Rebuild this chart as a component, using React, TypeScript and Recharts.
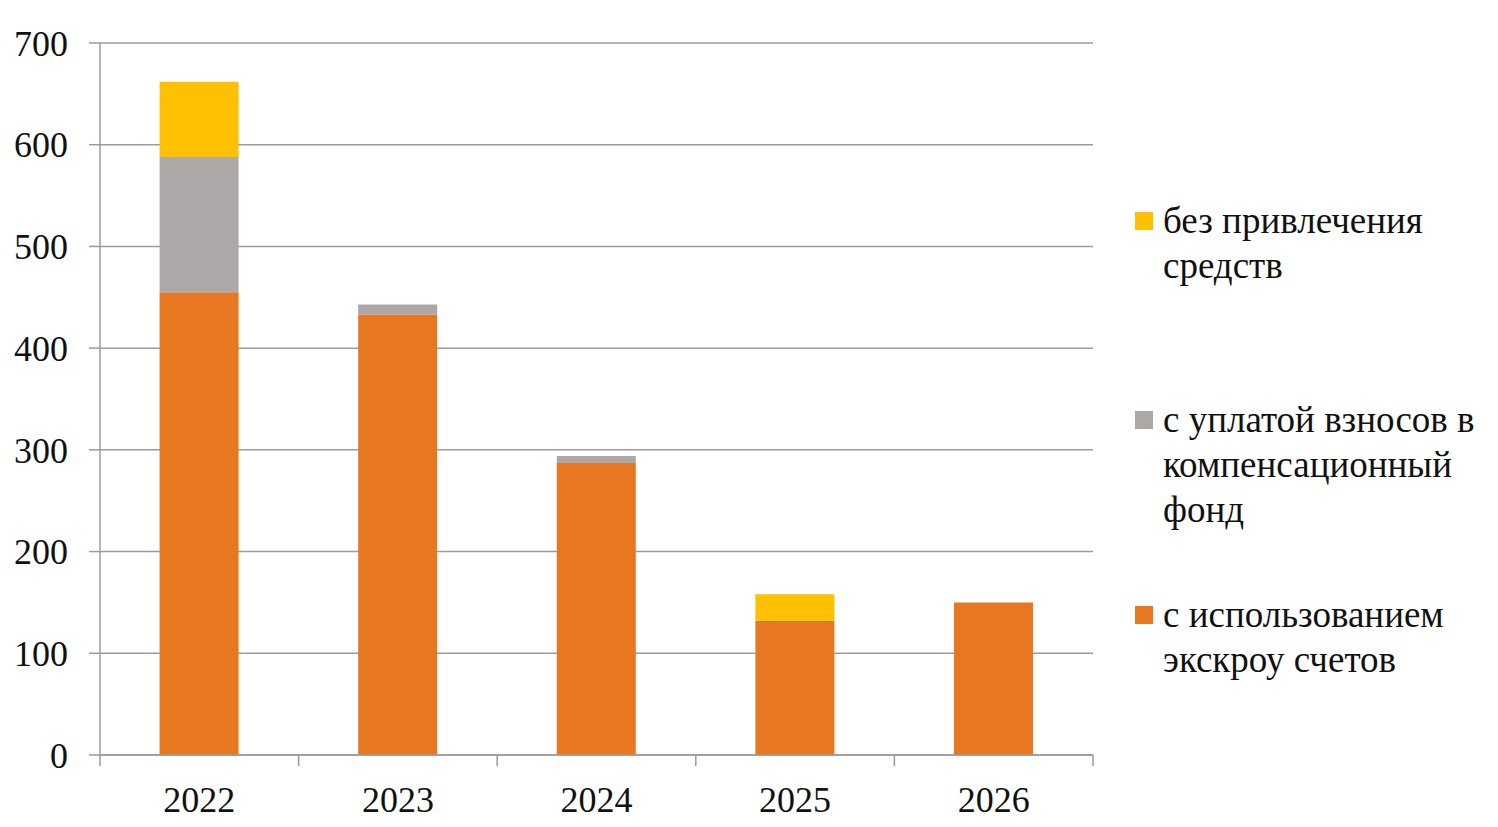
import { Bar, BarChart, CartesianGrid, Legend, XAxis, YAxis } from "recharts";

const years = ["2022", "2023", "2024", "2025", "2026"];
const escrowValues = [455, 433, 287, 132, 150];
const compFundValues = [133, 10, 7, 0, 0];
const noFundsValues = [74, 0, 0, 26, 0];
const yTicks = [0, 100, 200, 300, 400, 500, 600, 700];

const seriesNames = {
  escrow: "с использованием\nэкскроу счетов",
  compFund: "с уплатой взносов в\nкомпенсационный\nфонд",
  noFunds: "без привлечения\nсредств",
};

// top to bottom in the legend
const legendOrder = ["noFunds", "compFund", "escrow"];

const COLORS = {
  escrow: "#E87722",
  compFund: "#ACA8A7",
  noFunds: "#FFC000",
};

const FONT = 'Liberation Serif, "DejaVu Serif", serif';
const AXIS_COLOR = "#9B9B9B";

const chartData = years.map((year, i) => ({
  year,
  escrow: escrowValues[i],
  compFund: compFundValues[i],
  noFunds: noFundsValues[i],
}));

// legend entries sit at fixed heights, like the excel original
const LEGEND_TOPS = [198, 397, 592];

function XTick(props: any) {
  const { x = 0, y = 0, payload, index } = props;
  const half = payload?.offset ?? 99.3;
  return (
    <g>
      <line x1={x - half} x2={x - half} y1={y} y2={y + 11} stroke={AXIS_COLOR} strokeWidth={1.5} />
      {index === years.length - 1 && (
        <line x1={x + half} x2={x + half} y1={y} y2={y + 11} stroke={AXIS_COLOR} strokeWidth={1.5} />
      )}
      <text x={x} y={y + 57} textAnchor="middle" fill="#111" fontSize={36} fontFamily={FONT}>
        {payload?.value}
      </text>
    </g>
  );
}

function LegendContent(props: any) {
  const items = [...(props.payload ?? [])].sort(
    (a: any, b: any) => legendOrder.indexOf(a.dataKey) - legendOrder.indexOf(b.dataKey)
  );
  return (
    <div style={{ position: "relative", width: "100%", height: "100%" }}>
      {items.map((item: any, i: number) => (
        <div
          key={item.dataKey}
          style={{
            position: "absolute",
            top: LEGEND_TOPS[i],
            left: 0,
            paddingLeft: 28,
            fontFamily: FONT,
            fontSize: 37,
            lineHeight: "45px",
            color: "#111",
            whiteSpace: "pre",
          }}
        >
          <span
            style={{
              position: "absolute",
              left: 0,
              top: 14,
              width: 18,
              height: 18,
              background: item.color,
            }}
          />
          {item.value}
        </div>
      ))}
    </div>
  );
}

export default function App() {
  return (
    <div style={{ margin: "-8px 0 0 -8px", width: 1498, height: 827, background: "#fff" }}>
      <BarChart
        width={1498}
        height={827}
        data={chartData}
        margin={{ top: 43, right: 405, bottom: 0, left: 0 }}
        barCategoryGap="30%"
      >
        <CartesianGrid stroke={AXIS_COLOR} strokeWidth={1.5} vertical={false} />
        <XAxis
          dataKey="year"
          height={72}
          axisLine={{ stroke: AXIS_COLOR, strokeWidth: 1.5 }}
          tickLine={false}
          tickSize={0}
          tickMargin={0}
          interval={0}
          tick={<XTick />}
        />
        <YAxis
          width={100}
          domain={[0, 700]}
          ticks={yTicks}
          interval={0}
          axisLine={{ stroke: AXIS_COLOR, strokeWidth: 1.5 }}
          tickLine={{ stroke: AXIS_COLOR, strokeWidth: 1.5 }}
          tickSize={11}
          tickMargin={21}
          tick={{ fill: "#111", fontSize: 36, fontFamily: FONT }}
        />
        <Bar dataKey="escrow" name={seriesNames.escrow} stackId="a" fill={COLORS.escrow} isAnimationActive={false} />
        <Bar dataKey="compFund" name={seriesNames.compFund} stackId="a" fill={COLORS.compFund} isAnimationActive={false} />
        <Bar dataKey="noFunds" name={seriesNames.noFunds} stackId="a" fill={COLORS.noFunds} isAnimationActive={false} />
        <Legend
          layout="vertical"
          align="center"
          verticalAlign="middle"
          content={<LegendContent />}
          wrapperStyle={{ top: 0, left: 1135, width: 363, height: 827 }}
        />
      </BarChart>
    </div>
  );
}
